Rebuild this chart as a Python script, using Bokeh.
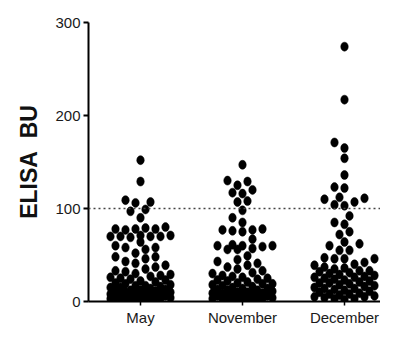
from bokeh.plotting import figure
from bokeh.models import ColumnDataSource, Span, FixedTicker, Range1d
from bokeh.embed import file_html
from bokeh.resources import INLINE

# ---------------- data (ELISA BU per sampling month) ----------------
categories = ["May", "November", "December"]
may = [152, 129, 109, 107, 106, 99, 97, 90, 80, 79, 78, 78, 77, 78, 71, 70,
       70, 69, 70, 71, 70, 64, 60, 58, 58, 56, 52, 48, 48, 46,
       43, 41, 39, 37, 35, 33, 32, 30, 29, 27, 26, 25, 24, 22, 21, 20, 19,
       18, 17, 16, 15, 15, 14, 13, 12, 12, 11, 10, 10, 9, 9, 8, 8, 7, 7, 6,
       6, 5, 5, 5, 4, 4, 4, 3, 3, 3, 2, 2, 2, 6, 11, 17, 23, 28]
november = [147, 130, 129, 125, 120, 117, 116, 108, 107, 98, 90, 85, 78, 75,
            77, 76, 77, 67, 60, 60, 61, 59, 60, 56, 56, 57, 49,
            45, 43, 41, 39, 37, 35, 33, 31, 30, 28, 27, 25, 24, 23, 22, 21,
            20, 19, 18, 17, 16, 15, 14, 14, 13, 12, 11, 10, 10, 9, 9, 8, 8,
            7, 7, 6, 6, 5, 5, 4, 4, 4, 3, 3, 3, 2, 2, 2, 12, 19, 26]
december = [274, 217, 171, 165, 154, 136, 123, 122, 112, 111, 110, 107, 104,
            103, 92, 85, 83, 75, 72, 64, 62, 60, 55, 55, 46, 46, 46, 47,
            42, 40, 39, 37, 36, 35, 33, 32, 31, 30, 29, 28, 27, 26, 25, 24,
            23, 22, 21, 20, 20, 19, 18, 17, 16, 15, 14, 14, 13, 12, 11, 10,
            9, 8, 8, 7, 6, 5, 5, 4, 3, 3, 2, 26, 33]
y_ticks = [0, 100, 200, 300]
threshold = 100

# ---------------- layout ----------------
W, H = 380, 328
BL, BR, BT, BB = 88, 0, 22, 23
frame_w = W - BL - BR
frame_h = H - BT - BB
px_per_x = 102.0
x_start = 1 - 52 / px_per_x
x_end = x_start + frame_w / px_per_x
y_start, y_end = 0, 300
px_per_y = frame_h / (y_end - y_start)
DOT_W, DOT_H = 7.5, 9.0


def swarm(vals, center):
    """Greedy beeswarm layout: horizontal pixel offsets for each value."""
    placed = []
    xs, ys = [], []
    cands = sorted(range(-30, 31, 5), key=lambda o: (abs(o), o))
    for v in sorted(vals):
        yp = v * px_per_y
        best, best_d = 0, -1.0
        for o in cands:
            d = min([((o - ox) / DOT_W) ** 2 + ((yp - oy) / DOT_H) ** 2
                     for ox, oy in placed], default=99.0)
            if d >= 1.0:
                best = o
                break
            if d > best_d:
                best_d, best = d, o
        placed.append((best, yp))
        xs.append(center + best / px_per_x)
        ys.append(v)
    return xs, ys


all_x, all_y = [], []
for i, vals in enumerate([may, november, december]):
    xs, ys = swarm(vals, i + 1)
    all_x += xs
    all_y += ys

src = ColumnDataSource(dict(x=all_x, y=all_y))

p = figure(width=W, height=H, output_backend="svg", toolbar_location=None,
           x_range=Range1d(x_start, x_end), y_range=Range1d(y_start, y_end),
           min_border_left=BL, min_border_right=BR, min_border_top=BT,
           min_border_bottom=BB)
p.outline_line_color = None
p.grid.visible = False
p.background_fill_color = "white"
p.border_fill_color = "white"

p.ellipse(x="x", y="y", width=DOT_W, height=DOT_H, width_units="screen",
          height_units="screen", source=src, fill_color="black",
          line_color="black", line_width=0.5)

p.add_layout(Span(location=threshold, dimension="width", line_dash="2 3",
                  line_width=1.6, line_color="#444444"))

# y axis
ya = p.yaxis[0]
ya.ticker = FixedTicker(ticks=y_ticks)
ya.axis_line_width = 2
ya.axis_line_color = "black"
ya.major_tick_line_width = 2
ya.major_tick_out = 5
ya.major_tick_in = 0
ya.minor_tick_line_color = None
ya.major_label_standoff = 3
ya.major_label_text_font = "Liberation Sans"
ya.major_label_text_font_size = "15px"
ya.major_label_text_color = "#1a1a1a"
ya.axis_label = "ELISA\u00a0\u00a0BU"
ya.axis_label_text_font = "Liberation Sans"
ya.axis_label_text_font_style = "bold"
ya.axis_label_text_font_size = "23px"
ya.axis_label_text_color = "#111111"
ya.axis_label_standoff = 10

# x axis
xa = p.xaxis[0]
xa.ticker = FixedTicker(ticks=[1, 2, 3])
xa.major_label_overrides = {i + 1: c for i, c in enumerate(categories)}
xa.axis_line_width = 2
xa.axis_line_color = "black"
xa.major_tick_line_width = 1.5
xa.major_tick_out = 4
xa.major_tick_in = 0
xa.minor_tick_line_color = None
xa.major_label_standoff = 3
xa.major_label_text_font = "Liberation Sans"
xa.major_label_text_font_size = "15px"
xa.major_label_text_color = "#1a1a1a"

open("out.html", "w").write(file_html(p, INLINE))
